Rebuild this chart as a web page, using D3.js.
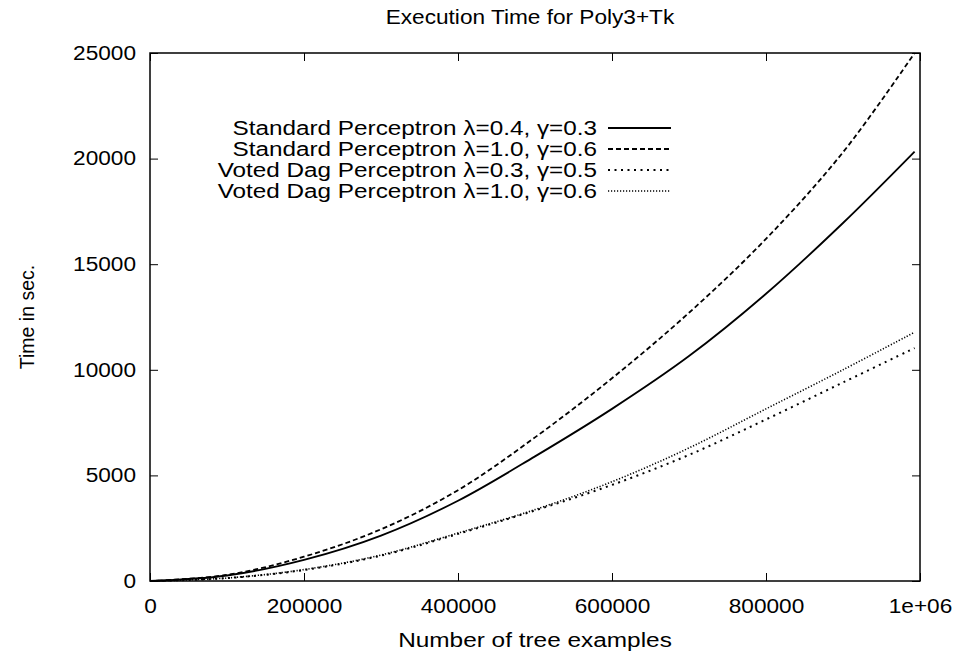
<!DOCTYPE html>
<html>
<head>
<meta charset="utf-8">
<script src="https://cdn.jsdelivr.net/npm/d3@7"></script>
<style>
  html, body { margin: 0; padding: 0; background: #fff; }
  svg { display: block; font-family: "Liberation Sans", Arial, Helvetica, sans-serif; }
</style>
</head>
<body>
<svg id="chart" width="961" height="656"></svg>
<script>
// ---- data ----
const xValues = [0, 100000, 200000, 300000, 400000, 500000, 600000, 700000, 800000, 900000, 993000];
const stdA = [0, 260, 1000, 2150, 3800, 5900, 8150, 10650, 13600, 16950, 20330];   // Standard λ=0.4, γ=0.3
const stdB = [0, 290, 1150, 2450, 4300, 6800, 9600, 12700, 16200, 20300, 25000];   // Standard λ=1.0, γ=0.6
const votA = [0, 135, 520, 1200, 2230, 3340, 4550, 5970, 7650, 9400, 11030];       // Voted Dag λ=0.3, γ=0.5
const votB = [0, 140, 540, 1230, 2270, 3380, 4700, 6300, 8150, 10000, 11780];      // Voted Dag λ=1.0, γ=0.6
const seriesNames = [
  "Standard Perceptron λ=0.4, γ=0.3",
  "Standard Perceptron λ=1.0, γ=0.6",
  "Voted Dag Perceptron λ=0.3, γ=0.5",
  "Voted Dag Perceptron λ=1.0, γ=0.6"
];
const xTicks = [0, 200000, 400000, 600000, 800000, 1000000];
const xTickLabels = ["0", "200000", "400000", "600000", "800000", "1e+06"];
const yTicks = [0, 5000, 10000, 15000, 20000, 25000];
const titleText = "Execution Time for Poly3+Tk";
const xLabel = "Number of tree examples";
const yLabel = "Time in sec.";

// ---- layout ----
const svg = d3.select("#chart");
const L = 150, R = 920, T = 53, B = 581;
const x = d3.scaleLinear().domain([0, 1000000]).range([L, R]);
const y = d3.scaleLinear().domain([0, 25000]).range([B, T]);
const fs = 19.5;
const tickLen = 8;

const styles = [
  { dash: null, width: 1.8 },
  { dash: "5,3", width: 1.8 },
  { dash: "2,4.5", width: 2 },
  { dash: "1.2,1.8", width: 1.6 }
];
const seriesData = [stdA, stdB, votA, votB];

// title
svg.append("text").attr("data-stretch", 1.16).attr("x", 530).attr("y", 24)
  .attr("text-anchor", "middle").attr("font-size", fs).text(titleText);

// axes via d3 axis generators (inward ticks)
const xAxisB = d3.axisBottom(x).tickValues(xTicks).tickFormat((d, i) => xTickLabels[i])
  .tickSizeInner(-tickLen).tickSizeOuter(0).tickPadding(0);
const xAxisT = d3.axisTop(x).tickValues(xTicks).tickFormat("")
  .tickSizeInner(-tickLen).tickSizeOuter(0);
const yAxisL = d3.axisLeft(y).tickValues(yTicks).tickFormat(d3.format("d"))
  .tickSizeInner(-tickLen).tickSizeOuter(0).tickPadding(14);
const yAxisR = d3.axisRight(y).tickValues(yTicks).tickFormat("")
  .tickSizeInner(-tickLen).tickSizeOuter(0);

function styleAxis(g) {
  g.select(".domain").remove();
  g.selectAll("line").attr("stroke", "#000").attr("stroke-width", 1);
  g.selectAll("text").attr("font-size", fs).attr("fill", "#000").attr("data-stretch", 1.16)
    .style("font-family", '"Liberation Sans", Arial, sans-serif');
}
const gxb = svg.append("g").attr("transform", `translate(0,${B})`).call(xAxisB).call(styleAxis);
gxb.selectAll("text").attr("y", 32).attr("dy", null);
svg.append("g").attr("transform", `translate(0,${T})`).call(xAxisT).call(styleAxis);
svg.append("g").attr("transform", `translate(${L},0)`).call(yAxisL).call(styleAxis);
svg.append("g").attr("transform", `translate(${R},0)`).call(yAxisR).call(styleAxis);

// frame
svg.append("rect").attr("x", L).attr("y", T).attr("width", R - L).attr("height", B - T)
  .attr("fill", "none").attr("stroke", "#000").attr("stroke-width", 1.5);

// axis labels
svg.append("text").attr("data-stretch", 1.25).attr("x", 535).attr("y", 647)
  .attr("text-anchor", "middle").attr("font-size", fs).text(xLabel);
svg.append("text").attr("transform", `translate(34,${317}) rotate(-90)`)
  .attr("text-anchor", "middle").attr("font-size", fs).attr("fill", "#000").text(yLabel);

// lines
const line = d3.line().x((d, i) => x(xValues[i])).y(d => y(d)).curve(d3.curveCatmullRom.alpha(0.5));
seriesData.forEach((vals, k) => {
  svg.append("path").datum(vals).attr("d", line)
    .attr("fill", "none").attr("stroke", "#000")
    .attr("stroke-width", styles[k].width)
    .attr("stroke-dasharray", styles[k].dash);
});

// legend
const legX = 597, legY0 = 128, legDy = 21;
seriesNames.forEach((name, k) => {
  const yy = legY0 + k * legDy;
  svg.append("text").attr("data-stretch", 1.245).attr("x", legX).attr("y", yy + 7)
    .attr("text-anchor", "end").attr("font-size", fs).text(name);
  svg.append("line").attr("x1", 608).attr("x2", 671).attr("y1", yy).attr("y2", yy)
    .attr("stroke", "#000").attr("stroke-width", styles[k].width)
    .attr("stroke-dasharray", styles[k].dash);
});

// widen horizontal texts to match reference proportions
svg.selectAll("text[data-stretch]").each(function() {
  const s = +this.getAttribute("data-stretch");
  const w = this.getComputedTextLength();
  if (w > 0) {
    d3.select(this).attr("textLength", w * s).attr("lengthAdjust", "spacingAndGlyphs");
  }
});
</script>
</body>
</html>
